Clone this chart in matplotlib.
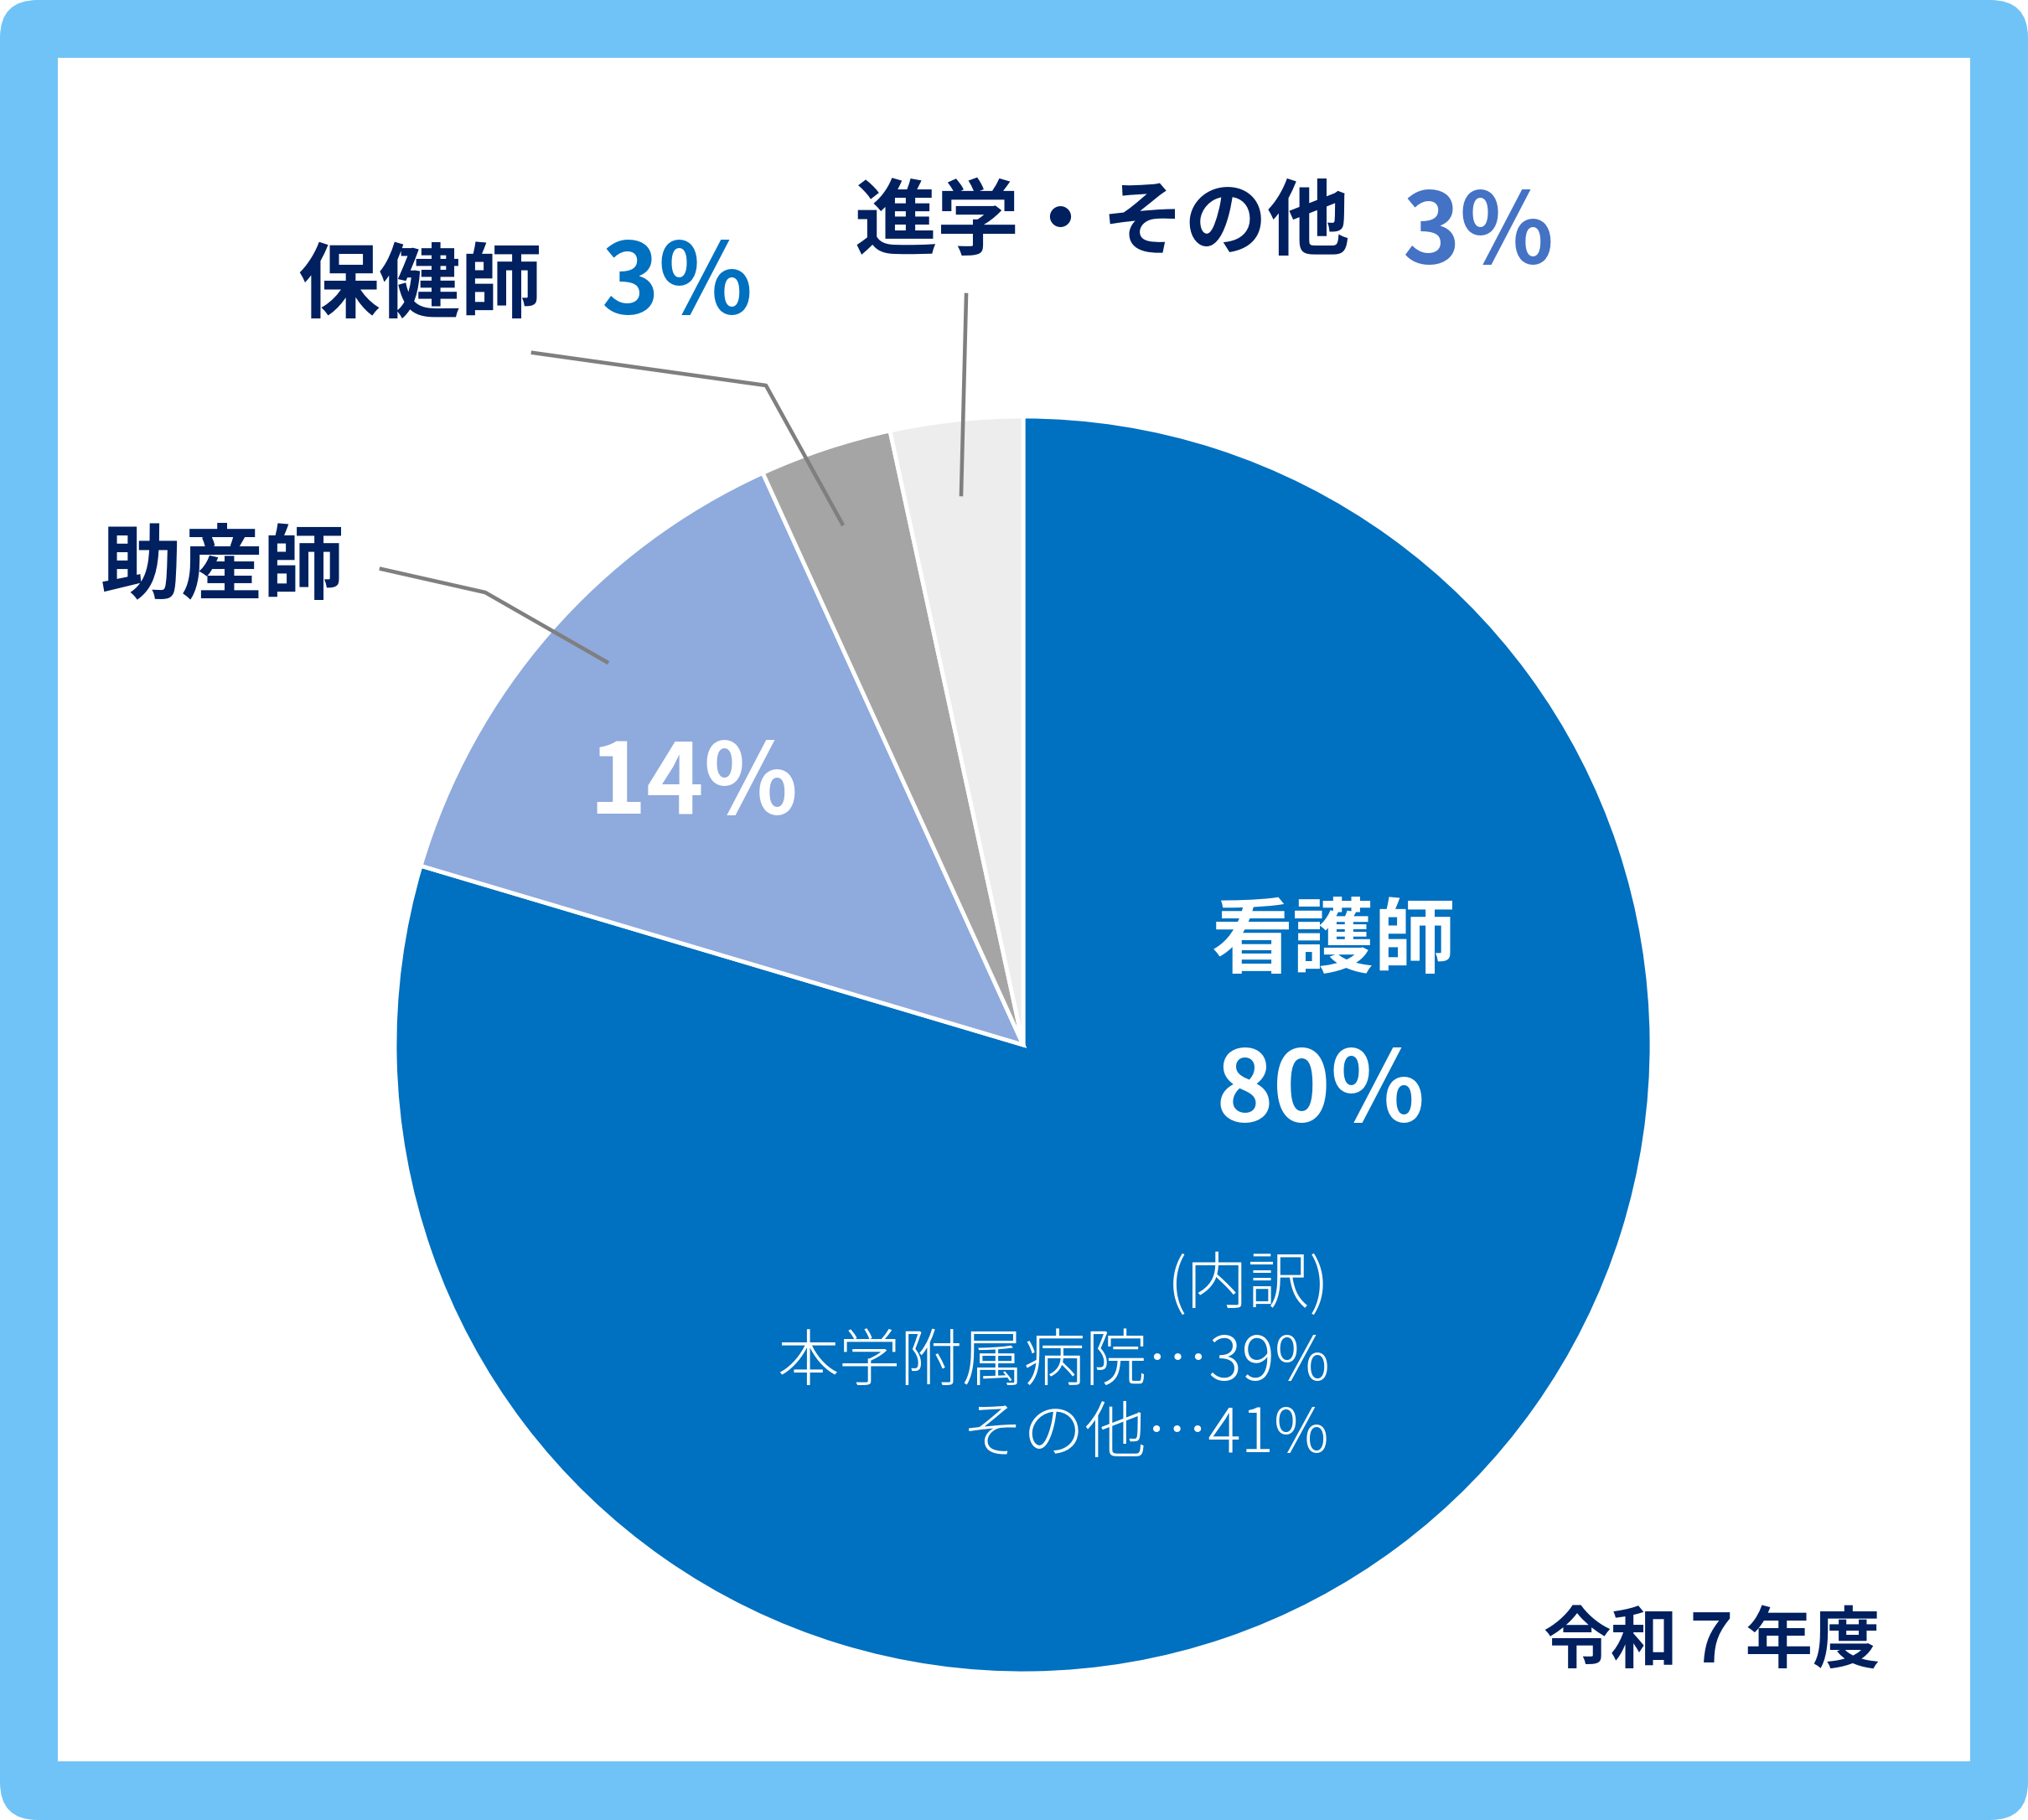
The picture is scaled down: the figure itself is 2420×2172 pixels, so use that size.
import matplotlib
matplotlib.use("Agg")
import matplotlib.pyplot as plt
from matplotlib.patches import FancyBboxPatch, Rectangle

plt.rcParams['font.family'] = ['Noto Sans CJK JP', 'DejaVu Sans']

# data
labels = ['看護師', '助産師', '保健師', '進学・その他']
values = [79.6, 13.6, 3.4, 3.4]
pct_labels = ['80%', '14%', '3%', '3%']
colors = ['#0070C0', '#8FAADC', '#A5A5A5', '#EDEDED']
breakdown = ['(内訳)', '本学附属病院…39%', 'その他…41%']
year_label = '令和７年度'

navy = '#002060'
W, H = 2420, 2172


def Y(y):
    # image row -> data y
    return H - y


fig = plt.figure(figsize=(W / 100, H / 100), dpi=100)
ax = fig.add_axes([0, 0, 1, 1])

# frame
ax.add_patch(FancyBboxPatch((30, 30), W - 60, H - 60,
                            boxstyle="round,pad=30,rounding_size=45",
                            fc='#70C3F6', ec='none', zorder=0))
ax.add_patch(Rectangle((69, Y(2102)), 2351 - 69, 2102 - 69,
                       fc='white', ec='none', zorder=1))

wedges, _ = ax.pie(values, colors=colors, startangle=90, counterclock=False,
                   center=(1221, Y(1247)), radius=750, frame=True,
                   wedgeprops=dict(edgecolor='white', linewidth=3.5))
for w in wedges:
    w.set_zorder(2)
ax.set_xlim(0, W)
ax.set_ylim(0, H)
ax.set_aspect('equal')
ax.axis('off')

# leader lines
lc = '#7F7F7F'
ax.plot([1153, 1147], [Y(352), Y(590)], color=lc, lw=3.3, zorder=3)
ax.plot([636, 914, 1005], [Y(421), Y(460), Y(625)], color=lc, lw=3.3, zorder=3)
ax.plot([455, 579, 724], [Y(679), Y(707), Y(790)], color=lc, lw=3.3, zorder=3)

# labels
ax.text(1446, Y(1124), labels[0], color='white', fontsize=70, fontweight='bold',
        ha='left', va='center', zorder=4)
ax.text(1451, Y(1304), pct_labels[0], color='white', fontsize=84, fontweight='bold',
        ha='left', va='center', zorder=4)
ax.text(120, Y(679), labels[1], color=navy, fontsize=70, fontweight='bold',
        ha='left', va='center', zorder=4)
ax.text(702, Y(937), pct_labels[1], color='white', fontsize=84, fontweight='bold',
        ha='left', va='center', zorder=4)
ax.text(355, Y(342), labels[2], color=navy, fontsize=70, fontweight='bold',
        ha='left', va='center', zorder=4)
ax.text(718, Y(340), pct_labels[2], color='#0070C0', fontsize=84, fontweight='bold',
        ha='left', va='center', zorder=4)
ax.text(1019, Y(267), labels[3], color=navy, fontsize=71, fontweight='bold',
        ha='left', va='center', zorder=4)
ax.text(1674, Y(280), pct_labels[3], color='#4472C4', fontsize=84, fontweight='bold',
        ha='left', va='center', zorder=4)

for txt, yy in zip(breakdown, [1535, 1627, 1713]):
    ax.text(1587, Y(yy), txt, color='white', fontsize=53, fontweight='light',
            ha='right', va='center', zorder=4)

ax.text(1841, Y(1960), year_label, color=navy, fontsize=58, fontweight='bold',
        ha='left', va='center', zorder=4)

fig.savefig('out.png', dpi=100)
